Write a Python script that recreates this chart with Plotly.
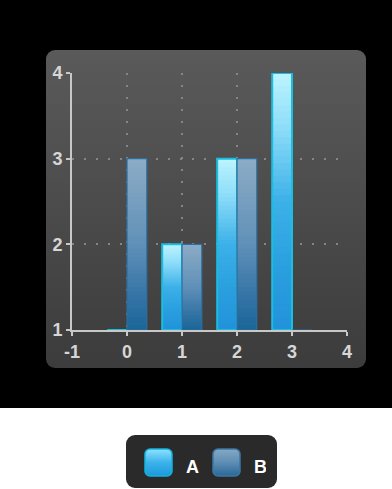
import base64
import plotly.graph_objects as go

# ---------------- data ----------------
categories = [0, 1, 2, 3]
series_names = ["A", "B"]
values_a = [1, 2, 3, 4]
values_b = [3, 2, 3, 1]
x_tick_vals = [-1, 0, 1, 2, 3, 4]
y_tick_vals = [1, 2, 3, 4]

# ---------------- style ----------------
W, H = 392, 489
ML, MR, MT, MB = 72, 45, 73, 159
PW, PH = W - ML - MR, H - MT - MB
Y_MIN, Y_MAX = 1, 4
X_MIN, X_MAX = -1, 4
BAR_W = 0.36
N_BANDS = 40

grad_a = [(0.0, "#bdf4ff"), (0.22, "#8bdcf8"), (0.5, "#3cb0e8"), (0.75, "#2aa0e0"), (1.0, "#2292da")]
grad_b = [(0.0, "#8cacc6"), (0.5, "#6090b8"), (0.8, "#3574a6"), (1.0, "#1a6698")]
border_a = "#18bfe0"
border_b = "#2c6e9e"


def hex2rgb(h):
    h = h.lstrip("#")
    return tuple(int(h[i:i + 2], 16) for i in (0, 2, 4))


def interp(stops, t):
    for (t0, c0), (t1, c1) in zip(stops[:-1], stops[1:]):
        if t0 <= t <= t1:
            f = 0 if t1 == t0 else (t - t0) / (t1 - t0)
            a, b = hex2rgb(c0), hex2rgb(c1)
            return "rgb(%d,%d,%d)" % tuple(round(a[k] + (b[k] - a[k]) * f) for k in range(3))
    return stops[-1][1]


fig = go.Figure()

series = [
    ("A", values_a, grad_a, border_a, -BAR_W, 2),
    ("B", values_b, grad_b, border_b, 0.0, 1.2),
]

for name, vals, grad, border, off, lw in series:
    heights = [v - Y_MIN for v in vals]
    # overlapping layers: each layer spans from the bar base up to its own top,
    # drawn from tallest (top colour) to shortest (bottom colour) -> smooth gradient
    for i in range(N_BANDS):
        frac_top = 1 - i / N_BANDS
        t = (i + 0.5) / N_BANDS  # 0 = top, 1 = bottom
        fig.add_trace(go.Bar(
            x=categories,
            y=[h * frac_top for h in heights],
            base=[Y_MIN] * len(vals),
            offset=off, width=BAR_W,
            marker=dict(color=interp(grad, t), line=dict(width=0)),
            showlegend=False, hoverinfo="skip", legendgroup=name,
        ))
    fig.add_trace(go.Bar(
        x=categories, y=heights, base=[Y_MIN] * len(vals),
        offset=off, width=BAR_W, name=name, legendgroup=name,
        marker=dict(color="rgba(0,0,0,0)", line=dict(color=border, width=lw)),
        showlegend=False, hovertemplate=name + ": %{x}, %{customdata}<extra></extra>",
        customdata=vals,
    ))
    # legend entry
    fig.add_trace(go.Scatter(
        x=[None], y=[None], mode="markers", name=name, legendgroup=name,
        marker=dict(symbol="square", size=10, color="rgba(0,0,0,0)"),
    ))

# ---------------- background (decorative) ----------------
svg = f'''<svg xmlns="http://www.w3.org/2000/svg" width="{W}" height="{H}" viewBox="0 0 {W} {H}" preserveAspectRatio="none">
<defs>
<linearGradient id="pg" x1="0" y1="0" x2="0" y2="1"><stop offset="0" stop-color="#5a5a5a"/><stop offset="1" stop-color="#3c3c3c"/></linearGradient>
<linearGradient id="sa" x1="0" y1="0" x2="0" y2="1"><stop offset="0" stop-color="#8fe2ff"/><stop offset="0.5" stop-color="#3bb2ea"/><stop offset="1" stop-color="#1c98dc"/></linearGradient>
<linearGradient id="sb" x1="0" y1="0" x2="0" y2="1"><stop offset="0" stop-color="#86a8c4"/><stop offset="0.5" stop-color="#5e8db4"/><stop offset="1" stop-color="#2a6896"/></linearGradient>
</defs>
<rect x="0" y="0" width="{W}" height="{H}" fill="#ffffff"/>
<rect x="0" y="0" width="{W}" height="408" fill="#000000"/>
<rect x="46" y="50" width="320" height="318" rx="9" ry="9" fill="url(#pg)"/>
<rect x="126" y="435" width="151" height="53" rx="9" ry="9" fill="#2a2a2a"/>
<rect x="145" y="449" width="27" height="27" rx="5" ry="5" fill="url(#sa)" stroke="#12b4dc" stroke-width="1.5"/>
<rect x="213" y="449" width="27" height="27" rx="5" ry="5" fill="url(#sb)" stroke="#3a78a6" stroke-width="1.5"/>
</svg>'''
src = "data:image/svg+xml;base64," + base64.b64encode(svg.encode()).decode()

fig.add_layout_image(dict(
    source=src, xref="paper", yref="paper",
    x=-ML / PW, y=1 + MT / PH, sizex=W / PW, sizey=H / PH,
    xanchor="left", yanchor="top", sizing="stretch", layer="below",
))

tick_font = dict(family="Liberation Sans", size=18, color="#d6d6d6", weight="bold")
axis_common = dict(
    showline=True, linecolor="#c8c8c8", linewidth=2,
    ticks="outside", ticklen=4, tickwidth=2, tickcolor="#c8c8c8",
    showgrid=True, gridcolor="#858585", gridwidth=2, griddash="2px,10px",
    zeroline=False, tickfont=tick_font, fixedrange=True, automargin=False,
    layer="below traces",
)

fig.update_layout(
    width=W, height=H,
    margin=dict(l=ML, r=MR, t=MT, b=MB, autoexpand=False),
    paper_bgcolor="#ffffff", plot_bgcolor="rgba(0,0,0,0)",
    barmode="overlay",
    xaxis=dict(range=[X_MIN, X_MAX], tickvals=x_tick_vals, ticktext=[str(v) for v in x_tick_vals], **axis_common),
    yaxis=dict(range=[Y_MIN, Y_MAX], tickvals=y_tick_vals, ticktext=[str(v) for v in y_tick_vals], **axis_common),
    showlegend=True,
    legend=dict(
        orientation="h", xref="container", yref="container",
        x=130 / W, y=(H - 466) / H,
        xanchor="left", yanchor="middle",
        bgcolor="rgba(0,0,0,0)", borderwidth=0,
        itemwidth=46, entrywidth=7, entrywidthmode="pixels",
        font=dict(family="Liberation Sans", size=18, color="#ffffff", weight="bold"),
    ),
)

fig.write_html(
    "out.html",
    config={"displayModeBar": False},
    post_script="document.body.style.margin='0';document.body.style.overflow='hidden';",
)
